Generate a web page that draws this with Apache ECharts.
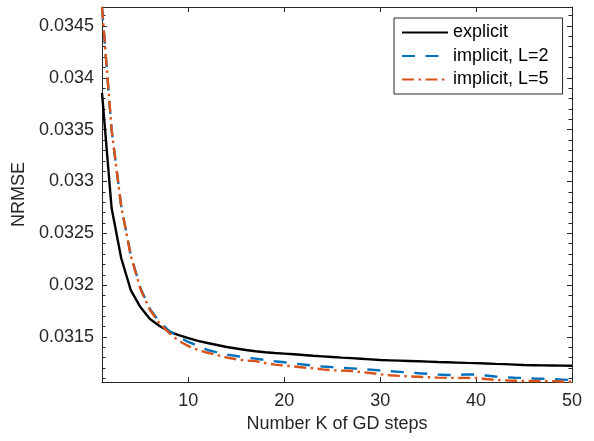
<!DOCTYPE html>
<html>
<head>
<meta charset="utf-8">
<script src="https://cdn.jsdelivr.net/npm/echarts@6/dist/echarts.min.js"></script>
<style>
html,body{margin:0;padding:0;background:#fff;}
#chart{width:594px;height:441px;}
</style>
</head>
<body>
<div id="chart"></div>
<script>
const kSteps = [1,2,3,4,5,6,7,8,9,10,11,12,13,14,15,16,17,18,19,20,21,22,23,24,25,26,27,28,29,30,31,32,33,34,35,36,37,38,39,40,41,42,43,44,45,46,47,48,49,50];

const explicitNrmse = [0.033854,0.032744,0.032262,0.031953,0.031789,0.031674,0.031606,0.031553,0.031519,0.031490,
  0.031462,0.031442,0.031423,0.031404,0.031389,0.031375,0.031362,0.031353,0.031346,0.031340,
  0.031333,0.031326,0.031319,0.031313,0.031307,0.031301,0.031296,0.031290,0.031284,0.031278,
  0.031275,0.031272,0.031269,0.031266,0.031263,0.031259,0.031256,0.031253,0.031250,0.031248,
  0.031245,0.031241,0.031238,0.031234,0.031230,0.031228,0.031226,0.031225,0.031224,0.031223];

const implicitL2 = [0.034680,0.033497,0.032764,0.032291,0.031973,0.031770,0.031645,0.031558,0.031500,0.031452,
  0.031413,0.031375,0.031351,0.031331,0.031317,0.031302,0.031291,0.031278,0.031266,0.031256,
  0.031244,0.031235,0.031225,0.031215,0.031209,0.031203,0.031197,0.031191,0.031185,0.031177,
  0.031170,0.031164,0.031158,0.031151,0.031145,0.031139,0.031134,0.031134,0.031138,0.031139,
  0.031129,0.031119,0.031112,0.031107,0.031105,0.031100,0.031097,0.031093,0.031089,0.031085];

const implicitL5 = [0.034683,0.033500,0.032760,0.032285,0.031965,0.031760,0.031632,0.031539,0.031462,0.031413,
  0.031375,0.031348,0.031326,0.031302,0.031285,0.031273,0.031267,0.031249,0.031234,0.031225,
  0.031216,0.031206,0.031199,0.031188,0.031179,0.031176,0.031172,0.031162,0.031153,0.031140,
  0.031131,0.031125,0.031120,0.031116,0.031112,0.031108,0.031106,0.031105,0.031106,0.031106,
  0.031095,0.031087,0.031082,0.031078,0.031076,0.031076,0.031076,0.031074,0.031071,0.031068];

const seriesNames = ['explicit', 'implicit, L=2', 'implicit, L=5'];

const xTickValues = [10, 20, 30, 40, 50];
const xTickLabels = ['10', '20', '30', '40', '50'];
const yTickValues = [0.0315, 0.032, 0.0325, 0.033, 0.0335, 0.034, 0.0345];
const yTickLabels = ['0.0315', '0.032', '0.0325', '0.033', '0.0335', '0.034', '0.0345'];
const yMinorValues = [0.0311,0.0312,0.0313,0.0314,0.0316,0.0317,0.0318,0.0319,0.0321,0.0322,0.0323,0.0324,
  0.0326,0.0327,0.0328,0.0329,0.0331,0.0332,0.0333,0.0334,0.0336,0.0337,0.0338,0.0339,
  0.0341,0.0342,0.0343,0.0344,0.0346];

const xMin = 1, xMax = 50;
const yMin = 0.031066, yMax = 0.034683;

const FONT = "'Liberation Sans', Arial, Helvetica, sans-serif";
const AX = '#262626';

function labelFor(values, labels) {
  return function (v) {
    for (let i = 0; i < values.length; i++) {
      if (Math.abs(values[i] - v) < 1e-9) return labels[i];
    }
    return '';
  };
}

const axisLineStyle = { show: true, lineStyle: { color: AX, width: 1 } };

function xAxisDef(pos, withLabels) {
  return {
    type: 'value', min: xMin, max: xMax, position: pos,
    axisLine: axisLineStyle,
    axisTick: { show: true, inside: true, length: 5, customValues: xTickValues, lineStyle: { color: AX, width: 1 } },
    axisLabel: withLabels ? { show: true, customValues: xTickValues, formatter: labelFor(xTickValues, xTickLabels),
      margin: 10, fontSize: 18, fontFamily: FONT, color: AX } : { show: false },
    splitLine: { show: false },
    name: withLabels ? 'Number K of GD steps' : '',
    nameLocation: 'middle', nameGap: 32,
    nameTextStyle: { fontSize: 18, fontFamily: FONT, color: AX }
  };
}

function yAxisDef(pos, major, withLabels) {
  return {
    type: 'value', min: yMin, max: yMax, position: pos,
    axisLine: major ? axisLineStyle : { show: false },
    axisTick: { show: true, inside: true, length: major ? 5 : 3.5,
      customValues: major ? yTickValues : yMinorValues, lineStyle: { color: AX, width: 1 } },
    axisLabel: withLabels ? { show: true, customValues: yTickValues, formatter: labelFor(yTickValues, yTickLabels),
      margin: 8, fontSize: 18, fontFamily: FONT, color: AX } : { show: false },
    splitLine: { show: false },
    name: withLabels ? 'NRMSE' : '',
    nameLocation: 'middle', nameGap: 63, nameRotate: 90,
    nameTextStyle: { fontSize: 18, fontFamily: FONT, color: AX }
  };
}

function toPairs(vals) { return kSteps.map((k, i) => [k, vals[i]]); }

const chart = echarts.init(document.getElementById('chart'), null, { renderer: 'canvas' });
chart.setOption({
  animation: false,
  backgroundColor: '#ffffff',
  grid: { left: 102, right: 22, top: 7, bottom: 59 },
  xAxis: [xAxisDef('bottom', true), xAxisDef('top', false)],
  yAxis: [yAxisDef('left', true, true), yAxisDef('left', false, false),
          yAxisDef('right', true, false), yAxisDef('right', false, false)],
  legend: {
    orient: 'vertical', left: 394, top: 18,
    itemWidth: 46, itemHeight: 18, itemGap: 5.5,
    padding: [5.5, 14, 5.5, 7],
    borderColor: AX, borderWidth: 1, backgroundColor: '#ffffff',
    itemStyle: { opacity: 0 },
    textStyle: { fontSize: 18, fontFamily: FONT, color: '#000' },
    data: seriesNames
  },
  series: [
    { name: seriesNames[0], type: 'line', data: toPairs(explicitNrmse), symbol: 'none', showSymbol: false,
      lineStyle: { color: '#000000', width: 2.4, type: 'solid' }, itemStyle: { color: '#000000' } },
    { name: seriesNames[1], type: 'line', data: toPairs(implicitL2), symbol: 'none', showSymbol: false,
      lineStyle: { color: '#0072BD', width: 2.4, type: [13, 10.5] }, itemStyle: { color: '#0072BD' } },
    { name: seriesNames[2], type: 'line', data: toPairs(implicitL5), symbol: 'none', showSymbol: false,
      lineStyle: { color: '#D95319', width: 2.4, type: [12, 4.5, 2.5, 4.5] }, itemStyle: { color: '#D95319' } }
  ]
});
</script>
</body>
</html>
